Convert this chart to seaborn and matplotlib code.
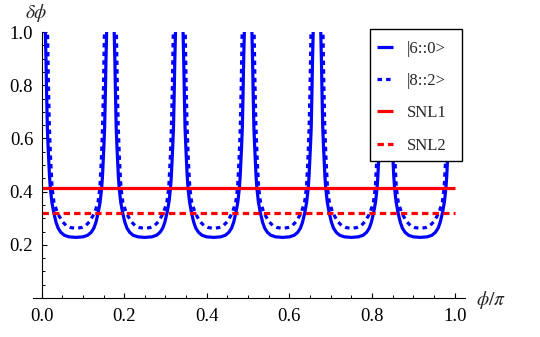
import numpy as np
import pandas as pd
import matplotlib
matplotlib.use("Agg")
import matplotlib.pyplot as plt
from matplotlib.lines import Line2D
from matplotlib.patches import Rectangle
from matplotlib.ticker import MultipleLocator, FormatStrFormatter
import seaborn as sns

# ---- data ----
bump_starts = [0.0, 1/6, 2/6, 3/6, 4/6, 5/6]
bump_width = 1/6

# one period of |6::0> (local fraction u inside a period, value)
u_solid = [0.045, 0.055, 0.065, 0.075, 0.084, 0.095, 0.105, 0.115, 0.127, 0.15,
           0.178, 0.21, 0.24, 0.28, 0.33, 0.4, 0.5, 0.6, 0.67, 0.72, 0.76, 0.79,
           0.822, 0.85, 0.873, 0.885, 0.895, 0.905, 0.916, 0.925, 0.935, 0.945, 0.955]
y_solid = [1.15, 1.0, 0.89, 0.75, 0.64, 0.57, 0.514, 0.46, 0.414, 0.36,
           0.32, 0.285, 0.263, 0.247, 0.236, 0.23, 0.228, 0.23, 0.236, 0.247, 0.263, 0.285,
           0.32, 0.36, 0.414, 0.46, 0.514, 0.57, 0.64, 0.75, 0.89, 1.0, 1.15]

# one period of |8::2>
u_dot = [0.08, 0.087, 0.1, 0.113, 0.13, 0.153, 0.18, 0.23, 0.3, 0.36, 0.42, 0.5,
         0.58, 0.64, 0.7, 0.77, 0.82, 0.847, 0.87, 0.887, 0.9, 0.913, 0.92]
y_dot = [1.12, 1.0, 0.8, 0.65, 0.53, 0.414, 0.36, 0.32, 0.288, 0.272, 0.265, 0.262,
         0.265, 0.272, 0.288, 0.32, 0.36, 0.414, 0.53, 0.65, 0.8, 1.0, 1.12]

snl_x = [0.0, 1.0]
snl1 = 0.415
snl2 = 0.321

labels = ["|6::0>", "|8::2>", "SNL1", "SNL2"]
x_ticks = [0.0, 0.2, 0.4, 0.6, 0.8, 1.0]
y_ticks = [0.2, 0.4, 0.6, 0.8, 1.0]

# ---- build tables ----
def build(u, y):
    rows = []
    for k, s in enumerate(bump_starts):
        for uu, yy in zip(u, y):
            rows.append((k, s + uu * bump_width, yy))
    return pd.DataFrame(rows, columns=["bump", "x", "y"])

df_solid = build(u_solid, y_solid)
df_dot = build(u_dot, y_dot)
df_snl1 = pd.DataFrame({"x": snl_x, "y": [snl1, snl1]})
df_snl2 = pd.DataFrame({"x": snl_x, "y": [snl2, snl2]})

sns.set_style("white")
plt.rcParams["font.family"] = ["Liberation Serif", "DejaVu Serif"]
plt.rcParams["mathtext.fontset"] = "stix"

fig = plt.figure(figsize=(5.4, 3.37), dpi=100)
ax = fig.add_axes([0.0609, 0.1157, 0.801, 0.789])

blue = (0, 0, 1)
red = (1, 0, 0)
lw = 2.3
dot_ls = (0, (1.4, 1.3))
dash_ls = (0, (2.0, 1.3))

sns.lineplot(data=df_solid, x="x", y="y", units="bump", estimator=None,
             color=blue, lw=lw, ax=ax, solid_capstyle="butt")
sns.lineplot(data=df_dot, x="x", y="y", units="bump", estimator=None,
             color=blue, lw=lw, linestyle=dot_ls, ax=ax)
sns.lineplot(data=df_snl1, x="x", y="y", color=red, lw=lw, ax=ax,
             solid_capstyle="butt")
sns.lineplot(data=df_snl2, x="x", y="y", color=red, lw=lw, linestyle=dash_ls, ax=ax)

ax.set_xlim(-0.021, 1.026)
ax.set_ylim(0, 1.0)
ax.set_xlabel("")
ax.set_ylabel("")

for s in ["top", "right"]:
    ax.spines[s].set_visible(False)
ax.spines["left"].set_position(("data", 0))
for s in ["left", "bottom"]:
    ax.spines[s].set_linewidth(0.8)
    ax.spines[s].set_color("black")

ax.set_xticks(x_ticks)
ax.set_yticks(y_ticks)
ax.xaxis.set_major_formatter(FormatStrFormatter("%.1f"))
ax.yaxis.set_major_formatter(FormatStrFormatter("%.1f"))
ax.xaxis.set_minor_locator(MultipleLocator(0.05))
ax.yaxis.set_minor_locator(MultipleLocator(0.05))
ax.tick_params(which="major", direction="in", length=3.5, width=0.8,
               labelsize=13.5, colors="black")
ax.tick_params(axis="x", which="major", pad=7.5)
ax.tick_params(axis="y", which="major", pad=6)
ax.tick_params(which="minor", direction="in", length=2.0, width=0.7, colors="black")
ax.tick_params(axis="y", which="both", left=True)
ax.tick_params(axis="x", which="both", bottom=True)

fig.text(36/540, 1 - 13/337, r"$\delta\phi$", ha="center", va="center", fontsize=14)
fig.text(491/540, 1 - 300/337, r"$\phi/\pi$", ha="center", va="center", fontsize=14)

# legend box
box = Rectangle((370/540, 1 - 161/337), 92/540, 132/337, transform=fig.transFigure,
                facecolor="white", edgecolor="black", lw=1.0, zorder=4)
fig.add_artist(box)
handles = [
    Line2D([], [], color=blue, lw=lw, solid_capstyle="butt"),
    Line2D([], [], color=blue, lw=lw, linestyle=dot_ls),
    Line2D([], [], color=red, lw=lw, solid_capstyle="butt"),
    Line2D([], [], color=red, lw=lw, linestyle=dash_ls),
]
leg = fig.legend(handles, labels, loc="upper left",
                 bbox_to_anchor=(370/540, 1 - 34/337), frameon=False,
                 fontsize=12, handlelength=0.96, handletextpad=0.84,
                 labelspacing=0.98, borderpad=0.4, borderaxespad=0)
leg.set_zorder(5)

fig.savefig("out.png", dpi=100)
